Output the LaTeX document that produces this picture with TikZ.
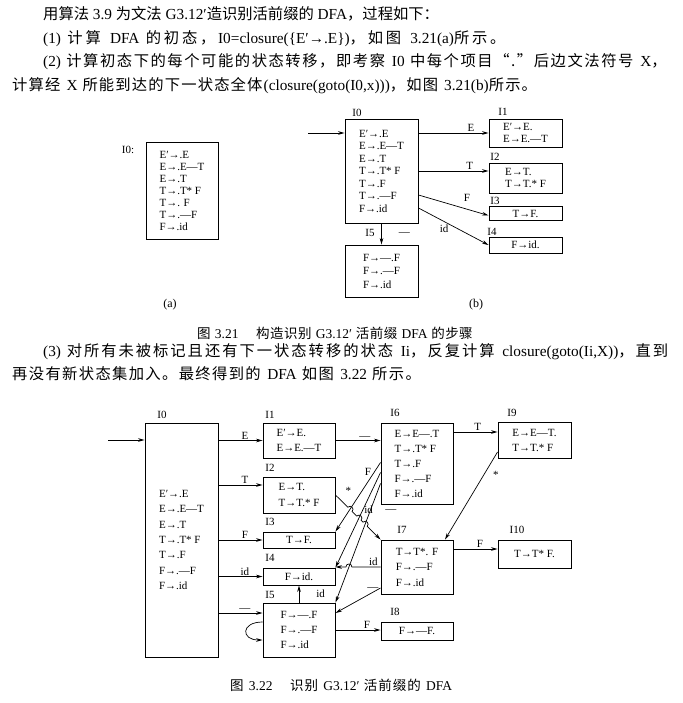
\documentclass[tikz,border=0pt]{standalone}
\usepackage{fontspec}
\setmainfont{Liberation Serif}
\newfontfamily\cjk{Noto Sans CJK SC}
\usetikzlibrary{arrows.meta,calc,intersections}
\def\cj#1{{\cjk\cjloop#1\relax}}
\def\cjloop#1{\ifx\relax#1\else#1\hskip0pt plus 2pt\relax\expandafter\cjloop\fi}
\tikzset{
  box/.style={draw, line width=0.95pt, inner sep=0pt, align=left},
  lsp/.style={font=\fontsize{11}{#1}\selectfont},
  arr/.style={line width=0.7pt, -{Stealth[length=6.5pt,width=3.6pt]}},
  ttl/.style={font=\fontsize{11}{11}\selectfont, inner sep=0pt},
  lab/.style={font=\fontsize{11}{11}\selectfont, inner sep=1pt},
  bodytxt/.style={anchor=west, inner sep=0pt, font=\fontsize{15.3}{18}\selectfont},
  captxt/.style={anchor=west, inner sep=0pt, font=\fontsize{13.5}{15}\selectfont},
}
\begin{document}
\begin{tikzpicture}[x=1pt,y=-1pt]
\fill[white] (0,0) rectangle (682,703);
\useasboundingbox (0,0) rectangle (682,703);

% ---------- text ----------
\node[bodytxt] (t1) at (43,14) {\cj{用算法} 3.9 \cj{为文法} G3.12′\cj{造识别活前缀的} DFA\cj{，过程如下：}};
\node[bodytxt] (t2) at (43,38.5) {\hbox to 465pt{(1) \cj{计算} DFA \cj{的初态，}I0=closure(\{E′→.E\})\cj{，如图} 3.21(a)\cj{所示。}}};
\node[bodytxt] (t3) at (43,62) {\hbox to 625pt{(2) \cj{计算初态下的每个可能的状态转移，即考察} I0 \cj{中每个项目“.”后边文法符号} X\cj{，}}};
\node[bodytxt] (t4) at (12,86) {\hbox to 526pt{\cj{计算经} X \cj{所能到达的下一状态全体}(closure(goto(I0,x)))\cj{，如图} 3.21(b)\cj{所示。}}};
\node[captxt] (cap1) at (197,333) {\hbox to 276pt{\cj{图} 3.21\hspace{1.3em}\cj{构造识别} G3.12′\ \cj{活前缀} DFA \cj{的步骤}}};
\node[bodytxt] (t5) at (43,352) {\hbox to 627pt{(3) \cj{对所有未被标记且还有下一状态转移的状态} Ii\cj{，反复计算} closure(goto(Ii,X))\cj{，直到}}};
\node[bodytxt] (t6) at (12,374) {\hbox to 410pt{\cj{再没有新状态集加入。最终得到的} DFA \cj{如图} 3.22 \cj{所示。}}};
\node[captxt] (cap2) at (230,685) {\hbox to 222pt{\cj{图} 3.22\hspace{1.3em}\cj{识别} G3.12′\ \cj{活前缀的} DFA}};

% ---------- figure 3.21 (a) ----------
\node[ttl] (tA0) at (128,150) {I0:};
\node[box, lsp=12, minimum width=72pt, minimum height=97pt] (A0) at (182,190.5)
  {E′→.E\\E→.E—T\\E→.T\\T→.T* F\\T→. F\\T→.—F\\F→.id};
\node[font=\fontsize{12}{12}\selectfont] (pa) at (170,305) {(a)};

% ---------- figure 3.21 (b) ----------
\node[box, lsp=12.5, minimum width=73pt, minimum height=104pt] (B0) at (381.5,171)
  {E′→.E\\E→.E—T\\E→.T\\T→.T* F\\T→.F\\T→.—F\\F→.id};
\node[box, lsp=12, minimum width=73pt, minimum height=28pt] (B1) at (525.5,133) {E′→E.\\E→E.—T};
\node[box, lsp=12, minimum width=73pt, minimum height=30pt] (B2) at (525.5,178) {E→T.\\T→T.* F};
\node[box, lsp=12, minimum width=73pt, minimum height=14pt] (B3) at (525.5,213.5) {T→F.};
\node[box, lsp=12, minimum width=73pt, minimum height=16pt] (B4) at (525.5,245) {F→id.};
\node[box, lsp=13.5, minimum width=73pt, minimum height=52pt] (B5) at (381.5,271) {F→—.F\\F→.—F\\F→.id};
\node[ttl] (tB0) at (357,113) {I0};
\node[ttl] (tB1) at (503,112) {I1};
\node[ttl] (tB2) at (495,157) {I2};
\node[ttl] (tB3) at (495,201) {I3};
\node[ttl] (tB4) at (492,232) {I4};
\node[ttl] (tB5) at (370,233) {I5};
\node[font=\fontsize{12}{12}\selectfont] (pb) at (476,305) {(b)};

\coordinate (sB) at (308,133);
\draw[arr] (sB) -- (sB -| B0.west);
\draw[arr] (B0.east |- B1.west) -- node[lab,pos=.75,above]{E} (B1.west);
\draw[arr] (B0.east) -- node[lab,pos=.73,above]{T} (B0.east -| B2.west);
\draw[arr] ([yshift=-24pt]B0.east) -- node[lab,pos=.69,above,yshift=6pt]{F} ([yshift=-2pt]B3.west);
\draw[arr] ([yshift=-37pt]B0.east) -- node[lab,pos=.41,below,xshift=-3pt]{id} (B4.west);
\draw[arr] (B0.south) -- node[lab,right,xshift=16pt]{—} (B5.north);

% ---------- figure 3.22 ----------
\node[box, lsp=15.3, minimum width=73pt, minimum height=234pt] (C0) at (181.5,540)
  {E′→.E\\E→.E—T\\E→.T\\T→.T* F\\T→.F\\F→.—F\\F→.id};
\node[box, lsp=15, minimum width=72pt, minimum height=35pt] (C1) at (299,440.5) {E′→E.\\E→E.—T};
\node[box, lsp=16, minimum width=72pt, minimum height=36pt] (C2) at (299,495) {E→T.\\T→T.* F};
\node[box, lsp=15, minimum width=72pt, minimum height=16pt] (C3) at (299,540) {T→F.};
\node[box, lsp=15, minimum width=72pt, minimum height=17pt] (C4) at (299,576.5) {F→id.};
\node[box, lsp=15, minimum width=72pt, minimum height=54pt] (C5) at (299,630) {F→—.F\\F→.—F\\F→.id};
\node[box, lsp=15, minimum width=72pt, minimum height=81pt] (C6) at (417,463.5) {E→E—.T\\T→.T* F\\T→.F\\F→.—F\\F→.id};
\node[box, lsp=15.5, minimum width=72pt, minimum height=54pt] (C7) at (417,567) {T→T*. F\\F→.—F\\F→.id};
\node[box, lsp=15, minimum width=72pt, minimum height=18pt] (C8) at (417,631) {F→—F.};
\node[box, lsp=15, minimum width=73pt, minimum height=36pt] (C9) at (534.5,440) {E→E—T.\\T→T.* F};
\node[box, lsp=15, minimum width=73pt, minimum height=28pt] (C10) at (534.5,554) {T→T* F.};
\node[ttl] (tC0) at (162,415) {I0};
\node[ttl] (tC1) at (270,415) {I1};
\node[ttl] (tC2) at (270,468) {I2};
\node[ttl] (tC3) at (270,522) {I3};
\node[ttl] (tC4) at (270,558) {I4};
\node[ttl] (tC5) at (270,595) {I5};
\node[ttl] (tC6) at (395,413) {I6};
\node[ttl] (tC7) at (402,530) {I7};
\node[ttl] (tC8) at (395,612) {I8};
\node[ttl] (tC9) at (512,413) {I9};
\node[ttl] (tC10) at (517,530) {I10};

\coordinate (sC) at (108,440);
\draw[arr] (sC) -- (sC -| C0.west);
\draw[arr] (C0.east |- C1.west) -- node[lab,pos=.6,above]{E} (C1.west);
\coordinate (c2in) at ([yshift=10pt]C2.west);
\draw[arr] (C0.east |- c2in) -- node[lab,pos=.6,above]{T} (c2in);
\draw[arr] (C0.east |- C3.west) -- node[lab,pos=.6,above]{F} (C3.west);
\draw[arr] (C0.east |- C4.west) -- node[lab,pos=.6,above]{id} (C4.west);
\coordinate (c5in) at ([yshift=17pt]C5.west);
\draw[arr] (C0.east |- c5in) -- node[lab,pos=.6,above]{—} (c5in);
\draw[arr] ([yshift=8pt]C5.west) to[out=180,in=180,looseness=3.1] ([yshift=-10pt]C5.west);

\draw[arr] (C1.east) -- node[lab,pos=.65,above]{—} (C1.east -| C6.west);
\coordinate (c9in) at ([yshift=8pt]C9.west);
\draw[arr] (C6.east |- c9in) -- node[lab,pos=.55,above]{T} (c9in);
\draw[arr] ([yshift=-12pt]C9.west) -- node[lab,pos=.26,right,xshift=8pt]{*} ([xshift=28pt]C7.north);
\coordinate (c10in) at ([yshift=5pt]C10.west);
\draw[arr] (C7.east |- c10in) -- node[lab,pos=.6,above]{F} (c10in);
\draw[arr] (C5.east) -- node[lab,pos=.7,above]{F} (C5.east -| C8.west);
\draw[arr] (C5.north) -- node[lab,right,xshift=16pt]{id} (C4.south);

\draw[arr, name path=p63] ([yshift=1pt]C6.west) -- node[lab,pos=.14,left,xshift=-2pt]{F} (C3.north east);
\draw[arr, name path=p64] ([yshift=-9pt]C6.west) -- node[lab,pos=.39,right]{id} (C4.north east);
\draw[arr, name path=p65] ([yshift=-20pt]C6.west) -- node[lab,pos=.235,right,xshift=14pt]{—} (C5.north east);
\draw[arr] ([yshift=-21pt]C7.west) -- node[lab,pos=.17,above]{—} ([yshift=17pt]C5.east);

% I2 -> I7 with hops
\path[name path=pstar] (C2.east) -- (C7.north west);
\path[name intersections={of=pstar and p63, by=h1}];
\path[name intersections={of=pstar and p64, by=h2}];
\path[name intersections={of=pstar and p65, by=h3}];
\foreach \i in {1,2,3}{
  \coordinate (ha\i) at ($(h\i)!3pt!(C2.east)$);
  \coordinate (hb\i) at ($(h\i)!3pt!(C7.north west)$);
}
\draw[arr] (C2.east) -- node[lab,pos=.55,above,xshift=6pt,yshift=6pt]{*} (ha1)
  .. controls ($(ha1)!4pt!90:(h1)$) and ($(hb1)!4pt!-90:(h1)$) .. (hb1) -- (ha2)
  .. controls ($(ha2)!4pt!90:(h2)$) and ($(hb2)!4pt!-90:(h2)$) .. (hb2) -- (ha3)
  .. controls ($(ha3)!4pt!90:(h3)$) and ($(hb3)!4pt!-90:(h3)$) .. (hb3) -- (C7.north west);

% I7 -> I4 (id) with hop
\coordinate (e74) at (C7.west -| C4.east);
\path[name path=p74] (C7.west) -- (e74);
\path[name intersections={of=p74 and p65, by=h4}];
\coordinate (ha4) at ($(h4)!3pt!(C7.west)$);
\coordinate (hb4) at ($(h4)!3pt!(e74)$);
\draw[arr] (C7.west) -- node[lab,pos=.25,above]{id} (ha4)
  .. controls ($(ha4)!4pt!-90:(h4)$) and ($(hb4)!4pt!90:(h4)$) .. (hb4) -- (e74);
\end{tikzpicture}
\end{document}
